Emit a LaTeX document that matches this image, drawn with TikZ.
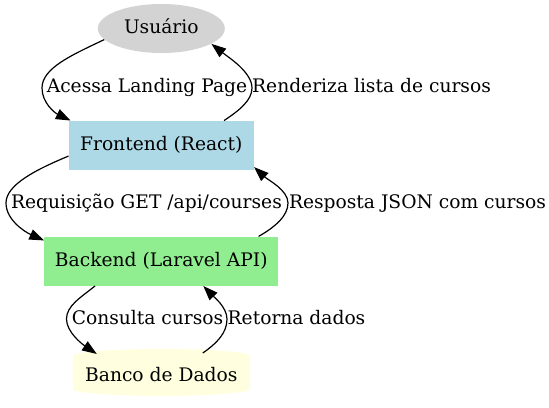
\documentclass[tikz,border=0pt]{standalone}
\usepackage{fontspec}
\setmainfont{DejaVu Serif}
\usetikzlibrary{shapes.geometric,arrows.meta,calc}
\definecolor{gvgray}{HTML}{D3D3D3}
\definecolor{gvblue}{HTML}{ADD8E6}
\definecolor{gvgreen}{HTML}{90EE90}
\definecolor{gvyellow}{HTML}{FFFFE0}
\begin{document}
\begin{tikzpicture}[x=0.75pt,y=-0.75pt,
  every node/.style={font=\fontsize{14pt}{16pt}\selectfont},
  nodetext/.style={inner sep=0pt, text height=10.5pt, text depth=3pt},
  box/.style={nodetext, rectangle, minimum height=36.75pt},
  lbl/.style={inner sep=0pt, anchor=base},
  edge/.style={draw=black, line width=0.9pt, -{Triangle[length=11pt,width=8pt]}}
]
\useasboundingbox (0,0) rectangle (549,407);
\node[nodetext, ellipse, fill=gvgray, minimum width=95.25pt, minimum height=36.75pt] (user) at (161.3,28.5) {Usuário};
\node[box, fill=gvblue, minimum width=138.75pt] (fe) at (161.3,145.3) {Frontend (React)};
\node[box, fill=gvgreen, minimum width=175.5pt] (be) at (161.3,261.2) {Backend (Laravel API)};
\node[nodetext, cylinder, shape border rotate=90, aspect=0.09, fill=gvyellow, minimum width=132.75pt, minimum height=35.25pt] (db) at (161.3,376) {Banco de Dados};

\draw[edge] (user.191) .. controls (72,55) and (42,68) .. (42,88)
  .. controls (42,103) and (55,113) .. ($(fe.north west)+(2,0)$);
\draw[edge] ($(fe.north east)+(-30,0)$) .. controls (240,110) and (252,100) .. (252,88)
  .. controls (252,72) and (228,57) .. (user.343);
\draw[edge] ($(fe.south west)+(0,-14)$) .. controls (35,170) and (6,185) .. (6,203)
  .. controls (6,220) and (25,232) .. ($(be.north west)+(0,4)$);
\draw[edge] ($(be.north east)+(-20,0)$) .. controls (275,227) and (288,216) .. (288,203)
  .. controls (288,190) and (268,180) .. ($(fe.south east)+(0,-3)$);
\draw[edge] ($(be.south west)+(51,0)$) .. controls (80,298) and (66.5,306) .. (66.5,319)
  .. controls (66.5,332) and (82,344) .. ($(db)+(-64.5,-22)$);
\draw[edge] ($(db)+(41.5,-23)$) .. controls (217,343) and (227,333) .. (227,319)
  .. controls (227,307) and (213,296) .. ($(be.south)+(42,0)$);

\node[lbl] (l1) at (147,92.8) {Acessa Landing Page};
\node[lbl] (l2) at (371.5,92.8) {Renderiza lista de cursos};
\node[lbl] (l3) at (146.5,208.3) {Requisição GET /api/courses};
\node[lbl] (l4) at (417.5,208.3) {Resposta JSON com cursos};
\node[lbl] (l5) at (147.5,324.2) {Consulta cursos};
\node[lbl] (l6) at (296.5,324.2) {Retorna dados};
\end{tikzpicture}
\end{document}
